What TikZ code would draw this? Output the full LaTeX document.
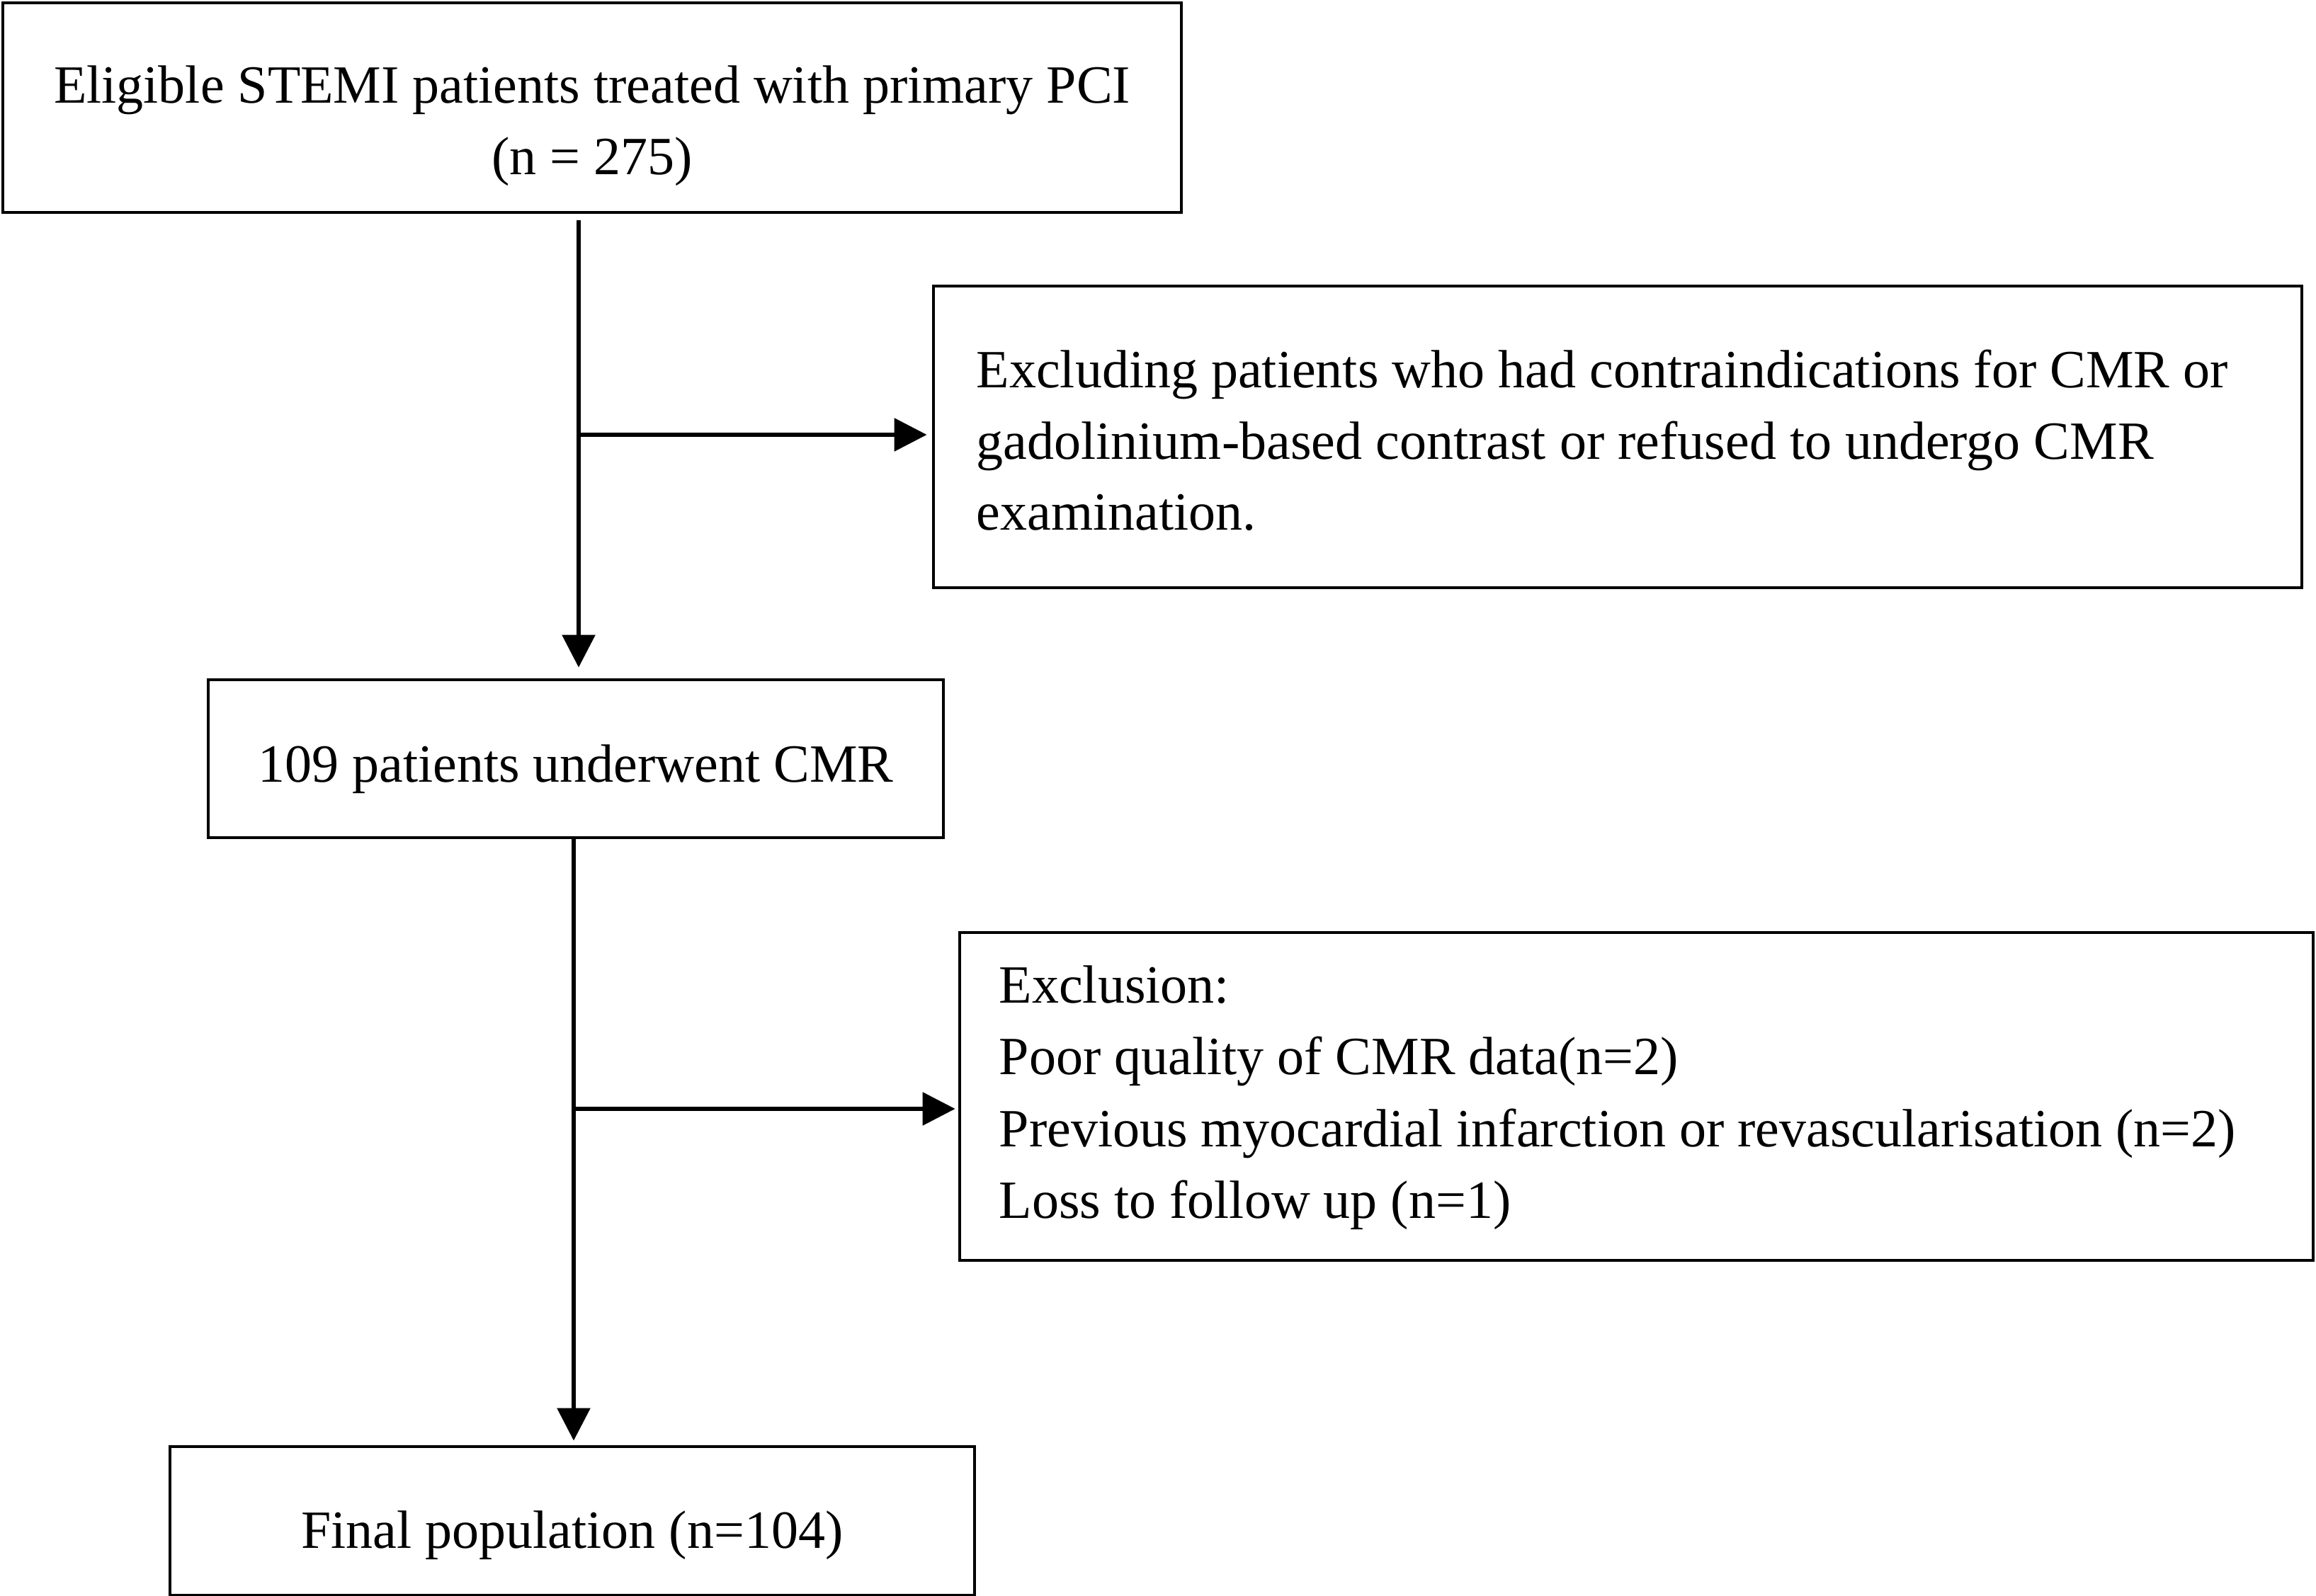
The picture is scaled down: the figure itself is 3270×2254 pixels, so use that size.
\documentclass[tikz,border=0pt]{standalone}
\usepackage{fontspec}
\setmainfont{Liberation Serif}
\usetikzlibrary{arrows.meta}
\begin{document}
\begin{tikzpicture}[x=0.25pt,y=-0.25pt,
  boxed/.style={draw=black,line width=1.2pt,rectangle,inner sep=0pt},
  txt/.style={inner sep=0pt,font=\fontsize{19pt}{25.25pt}\selectfont},
  arr/.style={line width=1.45pt,-{Triangle[length=11.5pt,width=11.5pt]}}]
\useasboundingbox[fill=white] (0,0) rectangle (3270,2254);
% boxes
\node[boxed,minimum width=1664*0.25pt,minimum height=296*0.25pt] (b1) at (836,152) {};
\node[boxed,minimum width=1932*0.25pt,minimum height=426*0.25pt] (b2) at (2284,617) {};
\node[boxed,minimum width=1038*0.25pt,minimum height=223*0.25pt] (b3) at (813,1071.5) {};
\node[boxed,minimum width=1911*0.25pt,minimum height=463*0.25pt] (b4) at (2310.5,1548.5) {};
\node[boxed,minimum width=1136*0.25pt,minimum height=210*0.25pt] (b5) at (808,2148) {};
% texts
\node[txt,anchor=base] (t1a) at (836,146) {Eligible STEMI patients treated with primary PCI};
\node[txt,anchor=base] (t1b) at (836,247) {(n = 275)};
\node[txt,anchor=base west] (t2a) at (1378,548) {Excluding patients who had contraindications for CMR or};
\node[txt,anchor=base west] (t2b) at (1378,649) {gadolinium-based contrast or refused to undergo CMR};
\node[txt,anchor=base west] (t2c) at (1378,749) {examination.};
\node[txt,anchor=base] (t3) at (813,1105) {109 patients underwent CMR};
\node[txt,anchor=base west] (t4a) at (1410,1417) {Exclusion:};
\node[txt,anchor=base west] (t4b) at (1410,1518) {Poor quality of CMR data(n=2)};
\node[txt,anchor=base west] (t4c) at (1410,1620) {Previous myocardial infarction or revascularisation (n=2)};
\node[txt,anchor=base west] (t4d) at (1410,1721) {Loss to follow up (n=1)};
\node[txt,anchor=base] (t5) at (808,2187) {Final population (n=104)};
% connector junctions
\coordinate (c1) at (817,614);
\coordinate (c2) at (810,1566);
% connectors
\draw[arr,shorten <=2.25pt,shorten >=3.75pt] (b1.south -| c1) -- (b3.north -| c1);
\draw[arr,shorten >=1.75pt] (c1) -- (c1 -| b2.west);
\draw[arr,shorten >=1.5pt] (b3.south -| c2) -- (b5.north -| c2);
\draw[arr,shorten >=1pt] (c2) -- (c2 -| b4.west);
\end{tikzpicture}
\end{document}
